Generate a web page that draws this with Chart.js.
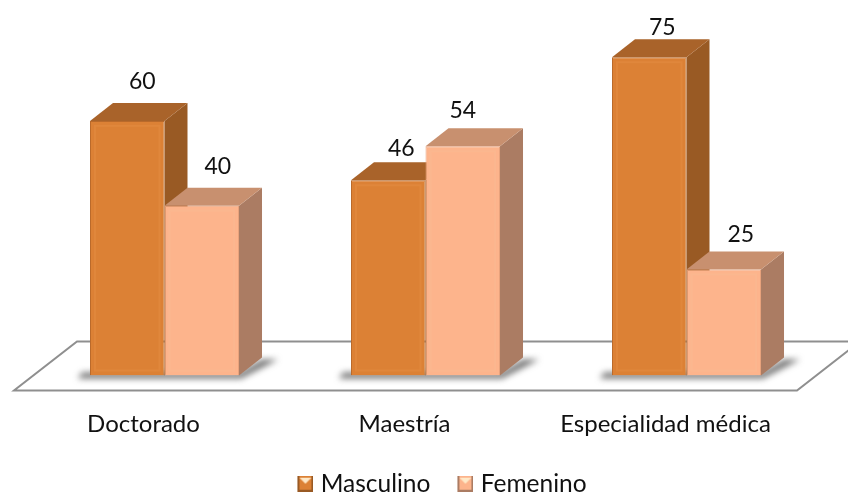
<!DOCTYPE html>
<html lang="es">
<head>
<meta charset="utf-8">
<title>Grado por sexo</title>
<script src="https://cdn.jsdelivr.net/npm/chart.js@4"></script>
<style>
    html, body { margin: 0; padding: 0; background: #fff; }
    #wrap { position: relative; width: 848px; height: 494px; }
</style>
</head>
<body>
<div id="wrap"><canvas id="grafico"></canvas></div>
<script>
// Datos
const categorias = ['Doctorado', 'Maestría', 'Especialidad médica'];
const masculino = [60, 46, 75];
const femenino = [40, 54, 25];

const fuente = 'Lato, "Open Sans", sans-serif';
const profX = 23;   // profundidad de las barras
const profY = 18;

const colores = {
    masculino: { frente: '#dc8135', borde: '#b96a2b', arriba: '#a9632a', lado: '#995a24', brillo: '#e0873c' },
    femenino: { frente: '#fdb48c', borde: '#e8a27c', arriba: '#c8906f', lado: '#ab7c63', brillo: '#fbb78f' }
};

// Icono de la leyenda: lienzo ancho con el cuadrito a la derecha,
// asi queda separado del texto anterior y pegado a su propio texto
function iconoLeyenda(c) {
    const cv = document.createElement('canvas');
    cv.width = 42;
    cv.height = 16;
    const g = cv.getContext('2d');
    g.translate(26, 0);
    g.fillStyle = c.frente;
    g.fillRect(0, 0, 16, 16);
    g.fillStyle = c.lado;
    g.fillRect(0, 0, 2, 16);
    g.fillRect(14, 0, 2, 16);
    g.fillRect(0, 14, 16, 2);
    g.fillStyle = '#ffe9c8';
    g.beginPath();
    g.moveTo(2, 2);
    g.lineTo(14, 2);
    g.lineTo(8, 8);
    g.closePath();
    g.fill();
    return cv;
}

// Piso en perspectiva, detras de las barras
const pisoPlugin = {
    id: 'piso',
    afterLayout(chart) {
        // la leyenda del original va algo a la derecha y pegada al borde
        chart.legend.left += 6;
        chart.legend.right += 6;
        chart.legend.top = 494 - chart.legend.height + 12;
    },
    beforeDatasetsDraw(chart) {
        const { ctx, chartArea: a } = chart;
        const abajo = a.bottom + 15;
        const atras = a.bottom - 34;
        ctx.save();
        ctx.strokeStyle = '#8f8f8f';
        ctx.lineWidth = 2;
        ctx.beginPath();
        ctx.moveTo(a.left - 20, abajo);
        ctx.lineTo(a.right - 20, abajo);
        ctx.lineTo(a.right + 43, atras);
        ctx.lineTo(a.left + 43, atras);
        ctx.closePath();
        ctx.stroke();

        // sombra de cada grupo sobre el piso
        const m0 = chart.getDatasetMeta(0).data;
        const m1 = chart.getDatasetMeta(1).data;
        ctx.filter = 'blur(3px)';
        ctx.fillStyle = 'rgba(80, 80, 80, 0.8)';
        m0.forEach((b, i) => {
            const izq = b.x - b.width / 2;
            const der = m1[i].x + m1[i].width / 2;
            ctx.beginPath();
            ctx.moveTo(izq - 12, a.bottom + 3);
            ctx.lineTo(der + 2, a.bottom + 3);
            ctx.lineTo(der + profX + 16, a.bottom - 16);
            ctx.lineTo(der + profX, a.bottom - 16);
            ctx.lineTo(der, a.bottom - 3);
            ctx.lineTo(izq - 8, a.bottom - 3);
            ctx.closePath();
            ctx.fill();
        });
        ctx.restore();
    }
};

// Caras superior y lateral; Masculino primero para que Femenino lo tape
const barras3dPlugin = {
    id: 'barras3d',
    beforeDatasetsDraw(chart) {
        const { ctx } = chart;
        ctx.save();
        chart.data.datasets.forEach((ds, d) => {
            const c = ds.paleta;
            chart.getDatasetMeta(d).data.forEach(b => {
                const izq = b.x - b.width / 2;
                const der = b.x + b.width / 2;
                ctx.fillStyle = c.lado;
                ctx.beginPath();
                ctx.moveTo(der, b.y);
                ctx.lineTo(der + profX, b.y - profY);
                ctx.lineTo(der + profX, b.base - profY);
                ctx.lineTo(der, b.base);
                ctx.closePath();
                ctx.fill();
                ctx.fillStyle = c.arriba;
                ctx.beginPath();
                ctx.moveTo(izq, b.y);
                ctx.lineTo(izq + profX, b.y - profY);
                ctx.lineTo(der + profX, b.y - profY);
                ctx.lineTo(der, b.y);
                ctx.closePath();
                ctx.fill();
            });
        });
        ctx.restore();
    },
    afterDatasetDraw(chart, args) {
        const { ctx } = chart;
        const c = chart.data.datasets[args.index].paleta;
        ctx.save();
        ctx.strokeStyle = c.brillo;
        ctx.lineWidth = 2;
        args.meta.data.forEach(b => {
            ctx.strokeRect(b.x - b.width / 2 + 5, b.y + 5, b.width - 10, b.base - b.y - 10);
        });
        ctx.restore();
    }
};

// Etiquetas de valor; en el original cada una fue movida a mano
const ajusteEtiquetas = [
    [[15, -39], [13, -32], [13, -30]],
    [[16, -39], [0, -36], [17, -35]]
];
const etiquetasPlugin = {
    id: 'etiquetas',
    afterDatasetsDraw(chart) {
        const { ctx } = chart;
        ctx.save();
        ctx.font = '23px ' + fuente;
        ctx.fillStyle = '#111';
        ctx.textAlign = 'center';
        ctx.textBaseline = 'middle';
        chart.data.datasets.forEach((ds, d) => {
            chart.getDatasetMeta(d).data.forEach((b, i) => {
                const [dx, dy] = ajusteEtiquetas[d][i];
                ctx.fillText(ds.data[i], b.x + dx, b.y + dy);
            });
        });
        ctx.restore();
    }
};

new Chart(document.getElementById('grafico'), {
    type: 'bar',
    data: {
        labels: categorias,
        datasets: [
            {
                label: 'Masculino',
                data: masculino,
                paleta: colores.masculino,
                backgroundColor: colores.masculino.frente,
                borderColor: colores.masculino.borde,
                borderWidth: 1
            },
            {
                label: 'Femenino',
                data: femenino,
                paleta: colores.femenino,
                backgroundColor: colores.femenino.frente,
                borderColor: colores.femenino.borde,
                borderWidth: 1
            }
        ]
    },
    options: {
        responsive: true,
        maintainAspectRatio: false,
        animation: false,
        categoryPercentage: 0.571,
        barPercentage: 1,
        layout: { padding: { left: 34, right: 31, top: 36, bottom: 0 } },
        plugins: {
            tooltip: { enabled: false },
            legend: {
                position: 'bottom',
                labels: {
                    usePointStyle: true,
                    pointStyleWidth: 32,
                    color: '#111',
                    font: { family: fuente, size: 24.5 },
                    padding: 6,
                    generateLabels(chart) {
                        return chart.data.datasets.map((ds, i) => ({
                            text: ds.label,
                            datasetIndex: i,
                            pointStyle: iconoLeyenda(ds.paleta),
                            fontColor: '#111',
                            lineWidth: 0
                        }));
                    }
                }
            }
        },
        scales: {
            y: { display: false, min: 0, max: 80 },
            x: {
                grid: { display: false },
                border: { display: false },
                ticks: {
                    color: '#111',
                    padding: 26,
                    labelOffset: -21,
                    maxRotation: 0,
                    font: { family: fuente, size: 24 }
                },
                afterFit(scale) { scale.height = 78; }
            }
        }
    },
    plugins: [pisoPlugin, barras3dPlugin, etiquetasPlugin]
});
</script>
</body>
</html>
